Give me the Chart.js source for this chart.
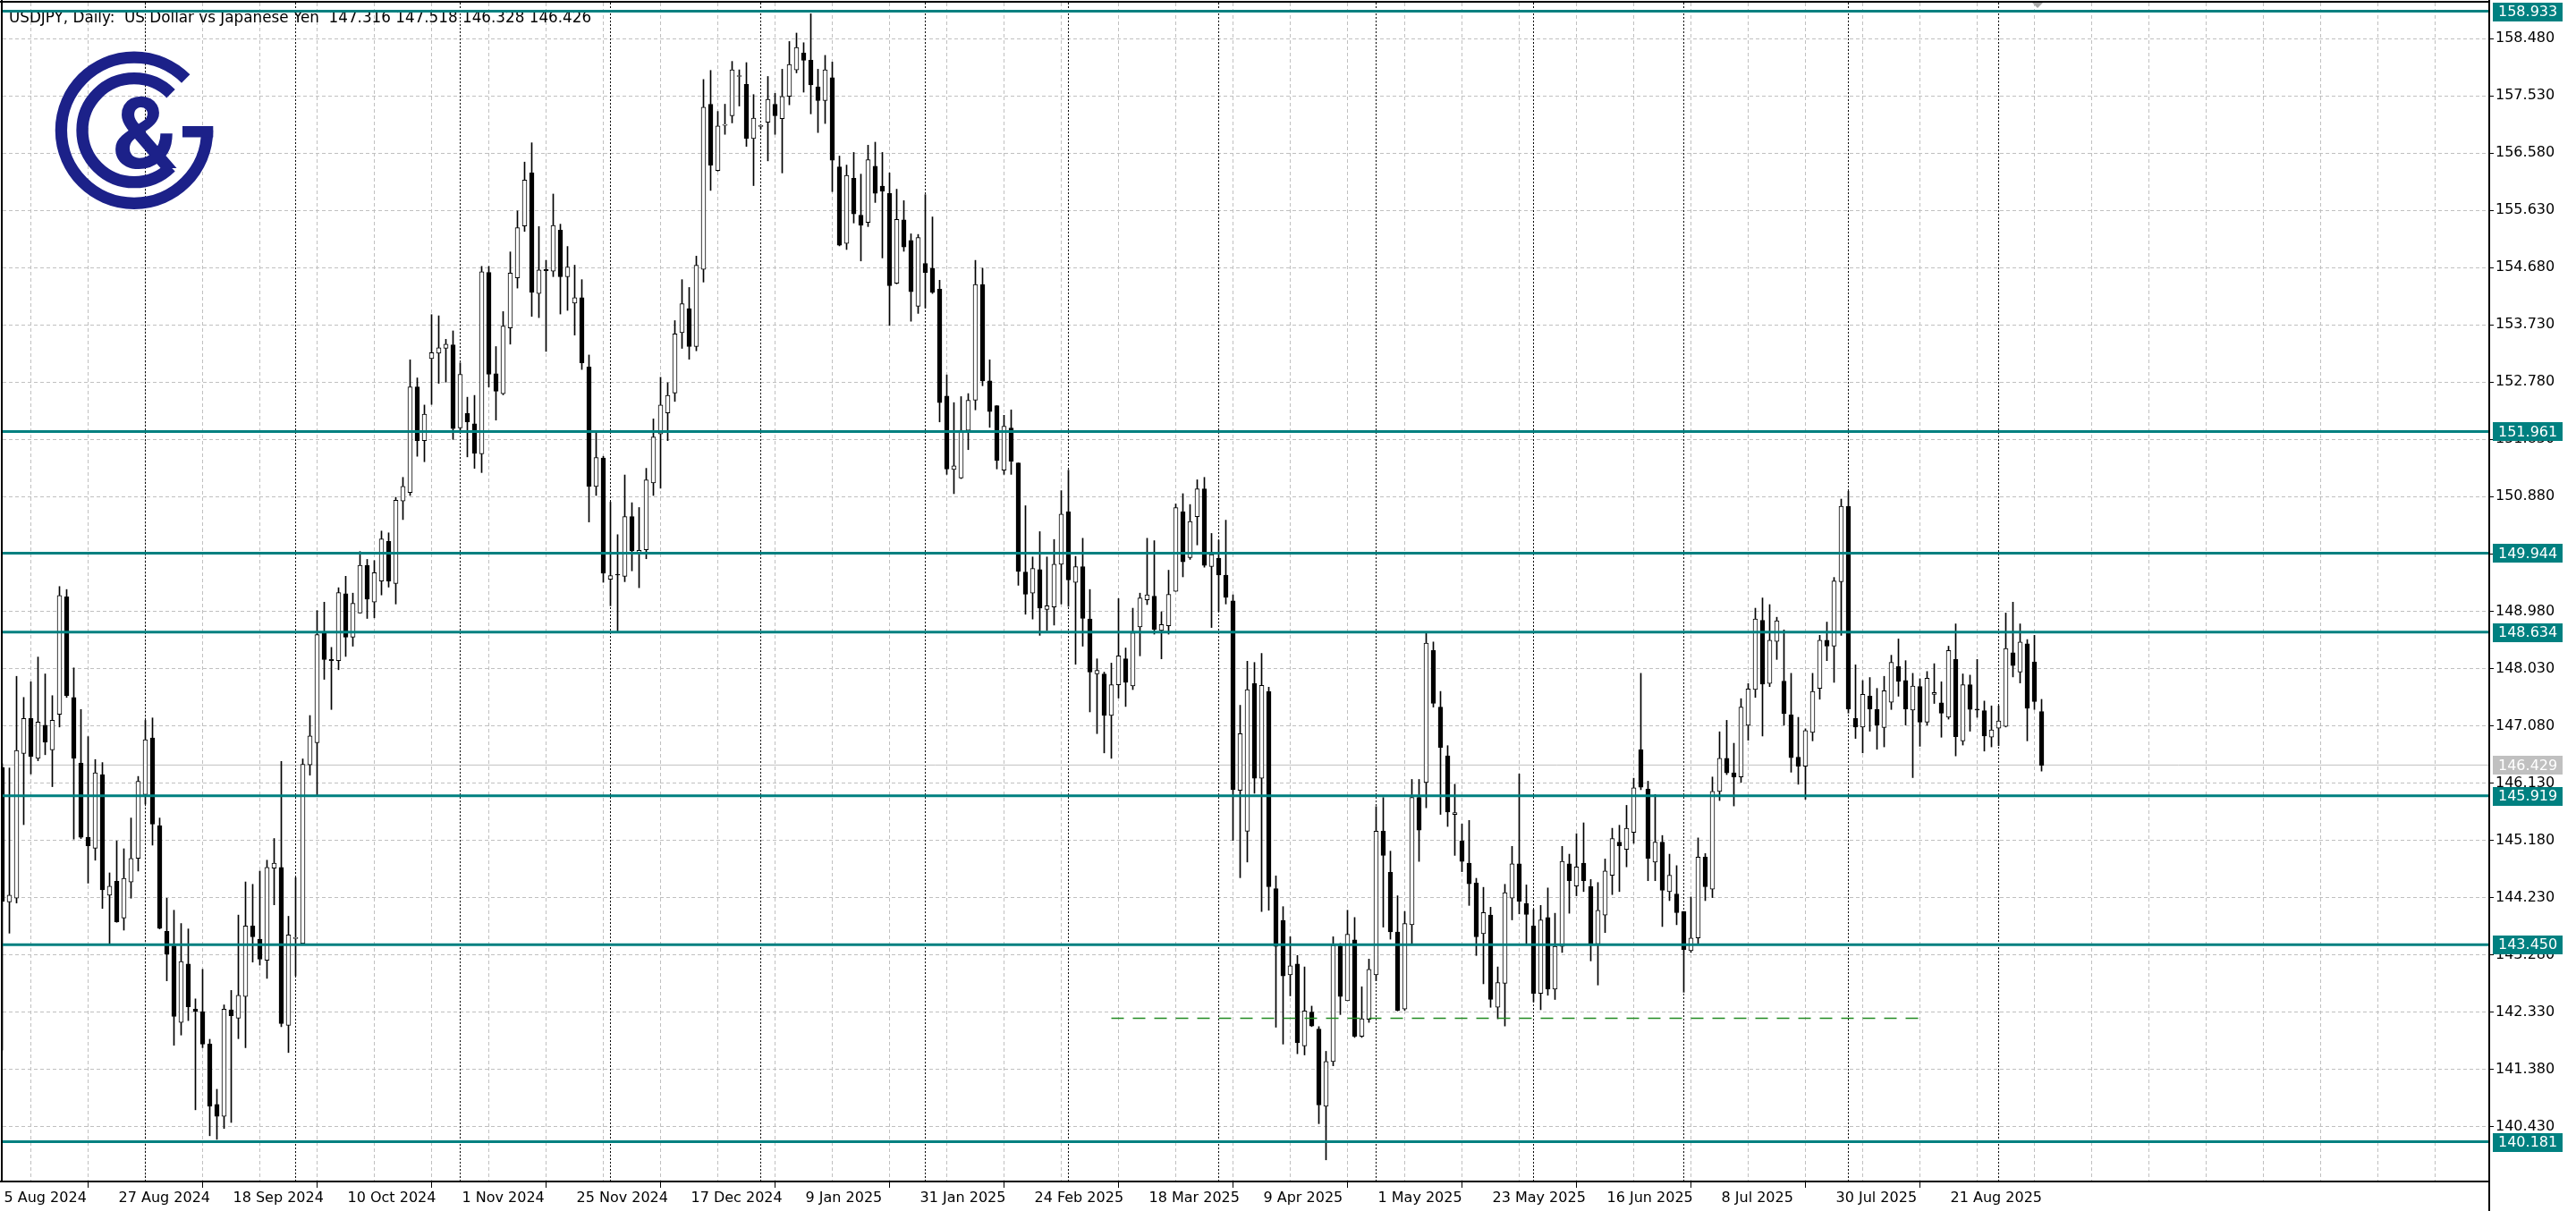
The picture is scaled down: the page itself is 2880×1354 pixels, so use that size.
<!DOCTYPE html>
<html><head><meta charset="utf-8">
<script src="https://cdn.jsdelivr.net/npm/chart.js@4.4.1/dist/chart.umd.min.js"></script>
<style>html,body{margin:0;padding:0;background:#fff;}canvas{display:block;}</style>
</head><body>
<canvas id="c" width="2880" height="1354"></canvas>
<script>
// ---------------- DATA ----------------
const opens = [
146.39,144.16,144.22,146.62,147.20,146.54,147.09,146.68,147.27,149.22,
147.55,146.46,145.23,145.05,146.27,144.27,144.50,143.89,144.49,144.88,
145.94,146.88,145.42,143.67,143.43,142.16,143.13,142.38,142.34,141.80,
140.80,140.60,142.37,142.23,142.59,143.76,143.54,143.19,144.72,144.73,
142.11,143.55,143.47,146.43,146.80,148.61,148.18,148.16,149.27,148.55,
148.95,149.74,149.13,149.48,150.14,149.44,150.81,150.95,152.70,151.81,
153.17,153.26,153.34,153.40,152.02,152.26,152.09,151.59,154.60,152.92,
152.59,153.68,154.51,155.37,156.25,154.25,154.65,154.62,155.30,154.53,
154.09,154.18,153.03,151.05,151.52,149.51,149.59,149.56,150.55,149.94,
150.00,151.11,151.92,152.27,152.60,153.60,154.00,153.37,154.65,157.39,
156.29,157.04,157.20,157.85,157.72,156.82,157.02,157.09,157.39,157.15,
157.52,157.96,158.24,158.12,157.68,157.45,157.83,156.35,155.08,156.16,
155.55,155.43,156.36,156.03,155.91,154.42,155.47,155.13,154.04,154.75,
154.67,154.32,152.55,151.33,151.19,151.98,152.48,154.40,152.80,152.39,
151.32,152.02,151.44,149.63,149.28,149.67,149.01,149.05,149.76,150.63,
149.46,149.72,148.85,147.94,147.94,147.25,147.76,148.19,147.74,148.72,
149.17,149.23,148.66,148.74,149.31,150.63,149.87,150.55,151.01,149.72,
149.86,149.58,149.15,146.01,145.33,147.78,146.21,147.65,144.38,143.85,
142.95,143.13,141.77,142.33,142.05,140.77,141.51,143.43,142.52,143.53,
141.93,142.21,142.95,145.33,144.65,143.66,142.38,143.78,145.89,146.14,
148.33,147.39,146.58,145.61,145.17,144.80,144.47,143.63,143.94,142.41,
142.81,144.22,144.79,144.13,143.76,142.64,143.90,142.71,143.42,144.79,
144.42,144.80,144.41,143.46,143.94,144.60,145.15,145.03,145.31,146.68,
146.03,144.82,145.15,144.33,144.29,144.00,143.35,143.56,144.90,144.37,
145.99,146.54,146.30,146.23,147.09,147.68,148.83,147.78,148.48,147.82,
147.26,146.56,146.41,146.97,147.70,148.50,148.40,149.47,150.72,147.20,
147.06,147.57,147.35,147.05,147.47,148.06,147.83,147.34,147.73,147.14,
147.60,147.46,147.22,148.18,146.83,147.76,147.35,147.33,146.89,147.04,
147.07,148.29,147.97,148.44,148.14,147.316
];
const highs = [
146.45,146.38,147.90,147.55,147.81,148.22,147.94,147.58,149.39,149.34,
148.04,147.35,146.90,146.52,146.47,144.64,145.17,145.04,145.55,146.24,
147.17,147.21,145.55,144.22,144.02,143.80,143.71,142.55,143.04,141.88,
141.05,142.45,142.69,143.94,144.49,144.45,144.67,144.85,145.21,146.49,
143.92,144.56,146.53,147.25,148.99,149.13,148.38,149.37,149.56,149.28,
149.97,149.84,149.82,150.31,150.28,150.87,151.20,153.15,152.85,152.40,
153.90,153.88,153.49,153.63,153.10,152.53,152.56,154.70,154.70,153.37,
153.95,154.94,155.62,156.43,156.75,155.36,154.80,155.90,155.40,155.03,
154.72,154.48,153.23,151.95,151.55,150.79,150.25,151.24,150.78,150.70,
151.35,152.17,152.86,152.77,153.80,154.48,154.35,154.87,157.80,157.95,
157.27,157.39,158.10,157.96,158.08,157.55,157.05,157.85,157.57,157.97,
158.43,158.57,158.41,158.89,157.97,158.20,158.09,156.53,156.38,156.59,
156.23,156.71,156.76,156.59,156.25,155.98,155.79,155.24,155.23,155.89,
155.52,154.47,152.90,152.44,152.54,152.59,154.80,154.67,153.15,152.39,
152.23,152.32,151.44,150.73,149.88,150.30,149.88,150.17,150.98,151.32,
149.89,150.19,149.34,148.19,147.97,148.12,149.19,148.37,149.03,149.28,
150.19,150.15,148.97,149.66,150.76,150.93,150.75,151.16,151.20,150.27,
150.16,150.49,149.25,147.42,148.15,148.13,148.28,147.72,144.59,144.08,
143.58,143.27,143.08,142.43,142.09,141.68,143.58,143.47,144.02,143.90,
142.75,143.21,145.74,145.89,145.00,144.26,144.00,146.19,146.19,148.61,
148.47,147.65,146.75,146.11,145.45,145.51,144.55,144.40,144.07,143.08,
144.45,145.08,146.28,144.44,144.03,144.10,144.39,143.97,145.08,144.95,
145.29,145.47,144.53,144.48,144.87,145.38,145.43,145.76,146.21,147.95,
146.16,145.94,145.26,144.95,144.76,144.00,144.24,145.22,144.96,146.23,
146.98,147.17,146.79,147.53,147.78,149.03,149.20,149.09,148.88,148.67,
147.95,147.22,147.03,147.95,148.58,148.80,149.54,150.84,150.97,148.09,
147.83,147.88,147.70,147.90,148.25,148.52,148.16,147.95,147.86,147.98,
148.11,147.81,148.40,148.77,147.94,147.92,148.18,147.49,147.41,147.41,
148.95,149.13,148.77,148.51,148.58,147.518
];
const lows = [
141.70,143.64,144.14,145.44,146.28,146.50,146.60,146.07,147.06,147.55,
145.20,145.21,144.47,144.85,144.05,143.46,143.82,143.69,144.22,144.67,
145.78,145.10,143.71,142.85,141.78,141.95,142.19,140.71,141.74,140.28,
140.22,140.40,140.50,141.89,141.74,143.16,143.11,142.89,144.11,142.09,
141.66,142.93,143.47,146.26,145.92,147.85,147.35,148.01,148.23,148.40,
148.95,148.86,148.87,149.25,149.38,149.10,150.50,150.90,151.55,151.46,
152.41,152.76,152.78,151.83,151.95,151.54,151.35,151.28,152.70,152.15,
152.57,153.41,154.34,155.28,153.87,153.85,153.29,154.53,153.91,153.97,
153.56,152.99,150.46,150.90,149.46,149.07,148.64,149.47,149.65,149.37,
149.85,150.90,151.02,151.81,152.46,153.34,153.16,153.30,154.44,155.96,
156.28,156.89,157.08,157.36,156.69,156.04,156.98,156.45,156.89,156.25,
157.38,157.91,157.59,157.23,156.92,157.07,155.94,155.04,154.98,155.42,
154.79,155.36,155.76,154.84,153.72,154.41,154.95,153.79,153.92,154.01,
154.25,152.12,151.25,150.93,151.18,151.66,152.32,152.72,152.03,151.34,
151.25,151.25,149.41,148.93,148.85,148.58,148.66,148.75,149.10,149.06,
148.10,148.40,147.31,146.95,146.63,146.54,147.54,147.40,147.68,148.24,
149.09,148.60,148.19,148.60,149.31,149.55,149.84,150.08,149.71,148.71,
148.98,149.10,145.18,144.56,144.82,145.96,144.00,144.02,142.08,141.80,
142.60,141.64,141.62,142.09,140.48,139.88,141.44,142.29,142.52,141.91,
141.91,142.16,142.85,143.74,143.54,142.35,142.36,143.47,144.83,145.72,
147.39,145.61,145.41,144.93,144.66,144.10,143.27,142.80,142.41,142.22,
142.10,143.86,143.96,143.47,142.50,142.37,142.61,142.54,143.32,143.97,
144.26,144.33,143.18,142.78,143.65,144.28,144.33,144.74,145.13,146.02,
144.51,144.51,143.75,144.18,143.78,142.66,143.32,143.47,144.18,144.23,
145.84,146.27,145.75,146.14,146.84,147.55,146.91,147.73,148.18,147.09,
146.31,146.11,145.86,146.83,147.52,148.16,147.80,148.58,147.29,146.87,
146.63,146.99,146.69,146.73,147.35,147.57,147.09,146.22,146.74,147.09,
147.45,146.89,147.19,146.58,146.76,146.99,147.22,146.66,146.73,146.75,
147.06,147.89,147.79,146.83,147.35,146.328
];
const closes = [
144.17,144.27,146.67,147.20,146.57,147.14,146.81,147.17,149.24,147.58,
146.54,145.23,145.09,146.30,144.36,144.42,143.83,144.55,144.88,146.16,
146.85,145.45,143.72,143.29,142.26,143.17,142.42,142.34,141.80,140.77,
140.60,142.38,142.27,142.61,143.76,143.58,143.21,144.73,144.80,142.14,
143.61,143.56,146.44,146.91,148.59,148.18,148.16,149.29,148.55,149.11,
149.74,149.18,149.62,150.18,149.48,150.82,151.05,152.70,151.81,152.25,
153.27,153.35,153.41,152.01,152.91,152.12,151.60,154.61,152.91,152.63,
153.71,154.59,155.34,156.13,154.27,154.64,154.63,155.38,154.53,154.69,
154.18,153.10,151.05,151.53,149.61,149.57,149.58,150.55,149.98,149.99,
151.16,151.87,152.40,152.56,153.58,154.08,153.37,154.72,157.34,156.38,
157.03,157.05,157.96,157.86,156.82,157.16,157.03,157.47,157.20,157.52,
158.05,158.33,158.12,157.71,157.45,157.96,156.46,155.05,156.21,155.57,
155.38,156.47,155.91,155.95,154.38,155.48,155.02,154.28,155.18,154.60,
154.27,152.44,151.34,151.39,151.98,152.48,154.40,152.80,152.29,151.48,
152.05,151.47,149.64,149.26,149.69,149.03,149.07,149.76,150.59,149.50,
149.72,148.86,147.97,148.00,147.25,147.76,148.24,147.80,148.62,149.20,
149.25,148.68,148.76,149.26,150.70,149.80,150.47,151.01,149.74,149.92,
149.58,149.21,146.02,146.95,147.68,146.21,147.75,144.41,143.42,142.93,
143.10,141.82,142.35,142.10,140.79,141.51,143.44,142.59,143.62,141.93,
142.22,143.04,145.33,144.93,143.66,142.36,143.80,145.89,145.35,148.45,
147.45,146.72,145.65,145.64,144.83,144.46,143.58,143.98,142.54,142.82,
144.31,144.79,144.17,143.95,142.64,143.86,142.71,143.42,144.83,144.51,
144.74,144.51,143.46,144.02,144.67,145.21,145.09,145.38,146.05,146.06,
144.88,145.15,144.35,144.60,143.98,143.37,143.56,144.90,144.41,145.99,
146.54,146.30,146.23,147.39,147.69,148.85,147.77,148.50,148.82,147.28,
146.55,146.41,147.00,147.65,148.50,148.40,149.48,150.72,147.36,147.06,
147.60,147.36,147.09,147.66,148.13,147.82,147.36,147.74,147.14,147.87,
147.63,147.29,148.33,146.90,147.76,147.35,147.34,146.91,147.01,147.16,
148.36,148.08,148.47,147.37,147.48,146.426
];
// Time-scale labels, one every 16 bars starting at bar 0
const dateTickLabels = ["5 Aug 2024","27 Aug 2024","18 Sep 2024","10 Oct 2024","1 Nov 2024","25 Nov 2024",
  "17 Dec 2024","9 Jan 2025","31 Jan 2025","24 Feb 2025","18 Mar 2025","9 Apr 2025","1 May 2025",
  "23 May 2025","16 Jun 2025","8 Jul 2025","30 Jul 2025","21 Aug 2025"];
// Price-scale tick values
const priceTickValues = [140.430,141.380,142.330,143.280,144.230,145.180,146.130,147.080,148.030,148.980,
  149.930,150.880,151.830,152.780,153.730,154.680,155.630,156.580,157.530,158.480];
// Horizontal level lines drawn on the chart
const levelPrices = [158.933,151.961,149.944,148.634,145.919,143.450,140.181];
const bidPrice = 146.429;
// Dashed support segment: [start bar, end bar] and its price
const supportBars = [155, 268];
const supportPrice = 142.23;
// First bar of each month (period separators)
const monthStartBars = [20,41,64,85,106,129,149,170,192,214,235,258,279];
const titleText = "USDJPY, Daily:  US Dollar vs Japanese Yen  147.316 147.518 146.328 146.426";

// ---------------- CHART ----------------
const FONT = "'DejaVu Sans', Verdana, sans-serif";
const TEAL = '#008080';
const X_MIN = 0.0625, X_MAX = 347.5625;
const Y_MAX = 159.074, Y_MIN = 139.521;

Chart.defaults.font.family = FONT;
Chart.defaults.font.size = 16;
Chart.defaults.color = '#000';

const candleBodies = opens.map((o, i) => ({x: i, y: [o, closes[i]]}));
const candleWicks = lows.map((l, i) => ({x: i, y: [l, highs[i]]}));
const isUp = i => closes[i] >= opens[i];

const datasets = [];
levelPrices.forEach(p => datasets.push({
  type: 'line', data: [{x: X_MIN, y: p}, {x: X_MAX, y: p}],
  borderColor: TEAL, borderWidth: 3, pointRadius: 0, order: 1
}));
datasets.push({
  type: 'line', data: [{x: supportBars[0], y: supportPrice}, {x: supportBars[1], y: supportPrice}],
  borderColor: '#228b22', borderWidth: 1.5, borderDash: [14, 10], pointRadius: 0, order: 2
});
datasets.push({
  type: 'line', data: [{x: X_MIN, y: bidPrice}, {x: X_MAX, y: bidPrice}],
  borderColor: '#c0c0c0', borderWidth: 1, pointRadius: 0, order: 6
});
datasets.push({
  type: 'bar', data: candleBodies, grouped: false, barThickness: 5, minBarLength: 1,
  backgroundColor: ctx => isUp(ctx.dataIndex) ? '#ffffff' : '#000000',
  borderColor: '#000', borderWidth: 1, borderSkipped: false, order: 4
});
datasets.push({
  type: 'bar', data: candleWicks, grouped: false, barThickness: 1,
  backgroundColor: '#000', borderWidth: 0, order: 5
});

const mt4Plugin = {
  id: 'mt4',
  beforeDraw(chart) {
    const c = chart.ctx;
    c.save(); c.fillStyle = '#fff'; c.fillRect(0, 0, chart.width, chart.height); c.restore();
  },
  beforeDatasetsDraw(chart) {
    const {ctx, chartArea: a, scales: {x}} = chart;
    ctx.save();
    ctx.beginPath(); ctx.rect(a.left, a.top, a.right - a.left, a.bottom - a.top); ctx.clip();
    // period separators
    ctx.strokeStyle = '#000'; ctx.lineWidth = 1; ctx.setLineDash([2, 2]);
    monthStartBars.forEach(b => {
      const px = Math.round(x.getPixelForValue(b) - 0.5) + 0.5;
      ctx.beginPath(); ctx.moveTo(px, a.top); ctx.lineTo(px, a.bottom); ctx.stroke();
    });
    ctx.setLineDash([]);
    // title
    ctx.fillStyle = '#000'; ctx.font = '16.8px ' + FONT; ctx.textAlign = 'left'; ctx.textBaseline = 'alphabetic';
    ctx.fillText(titleText, 10, 25);
    // logo
    const cx = 150, cy = 145.7, navy = '#1c2189';
    ctx.strokeStyle = navy; ctx.fillStyle = navy; ctx.lineCap = 'butt'; ctx.lineWidth = 13.3;
    ctx.beginPath(); ctx.arc(cx, cy, 81.6, -Math.PI / 4, 0, true); ctx.stroke();
    ctx.beginPath(); ctx.arc(cx, cy, 58, -Math.PI / 4, Math.PI / 4, true); ctx.stroke();
    ctx.fillRect(204, 141, 34.3, 12.5);
    ctx.font = 'bold 112px Roboto'; ctx.textAlign = 'center';
    ctx.fillText('&', 162, 188);
    ctx.restore();
  },
  afterDraw(chart) {
    const {ctx, chartArea: a, scales: {y}} = chart;
    ctx.save();
    // frame
    ctx.strokeStyle = '#000'; ctx.lineWidth = 2;
    ctx.beginPath();
    ctx.moveTo(0, 2); ctx.lineTo(a.right, 2);
    ctx.moveTo(2, 0); ctx.lineTo(2, a.bottom);
    ctx.moveTo(0, a.bottom); ctx.lineTo(a.right, a.bottom);
    ctx.moveTo(a.right, 0); ctx.lineTo(a.right, chart.height);
    ctx.stroke();
    // price boxes
    ctx.font = '16px ' + FONT; ctx.textAlign = 'left'; ctx.textBaseline = 'middle';
    const box = (p, bg) => {
      const py = y.getPixelForValue(p);
      ctx.fillStyle = bg; ctx.fillRect(a.right + 4, Math.round(py) - 10, 78, 21);
      ctx.fillStyle = '#fff'; ctx.fillText(p.toFixed(3), a.right + 10, py + 1);
    };
    box(bidPrice, '#c0c0c0');
    levelPrices.forEach(p => box(p, TEAL));
    // chart shift marker
    ctx.fillStyle = '#a8a8a8';
    ctx.beginPath(); ctx.moveTo(2272, 3); ctx.lineTo(2284, 3); ctx.lineTo(2278, 9); ctx.closePath(); ctx.fill();
    ctx.restore();
  }
};

new Chart(document.getElementById('c'), {
  type: 'bar',
  data: {datasets},
  options: {
    responsive: false, animation: false, devicePixelRatio: 1, events: [],
    layout: {padding: {left: 3, top: 3, right: 0, bottom: 0}},
    plugins: {legend: {display: false}, tooltip: {enabled: false}},
    scales: {
      x: {
        type: 'linear', min: X_MIN, max: X_MAX, bounds: 'data', offset: false,
        afterBuildTicks: s => {
          const t = [];
          for (let i = 0; i <= 344; i += 8) t.push({value: i});
          s.ticks = t;
        },
        afterFit: s => { s.height = 33; s.paddingLeft = 0; s.paddingRight = 0; },
        grid: {
          color: '#c0c0c0', lineWidth: 1, drawTicks: true, tickLength: 7, tickWidth: 1,
          tickColor: c => (c.tick && c.tick.value % 16 === 0 && c.tick.value / 16 < dateTickLabels.length) ? '#000' : 'rgba(0,0,0,0)'
        },
        border: {display: false, dash: [4, 3]},
        ticks: {
          autoSkip: false, maxRotation: 0, minRotation: 0, align: 'start', padding: 2, labelOffset: 2,
          color: '#000', font: {size: 16, family: FONT},
          callback: v => (v % 16 === 0 && dateTickLabels[v / 16]) ? dateTickLabels[v / 16] : ''
        }
      },
      y: {
        type: 'linear', position: 'right', min: Y_MIN, max: Y_MAX, bounds: 'data',
        afterBuildTicks: s => { s.ticks = priceTickValues.map(v => ({value: v})); },
        afterFit: s => { s.width = 97; s.paddingTop = 0; s.paddingBottom = 0; },
        grid: {color: '#c0c0c0', lineWidth: 1, drawTicks: true, tickLength: 5, tickColor: '#000', tickWidth: 1},
        border: {display: false, dash: [4, 3]},
        ticks: {padding: 2, color: '#000', font: {size: 16, family: FONT}, callback: v => v.toFixed(3)}
      }
    }
  },
  plugins: [mt4Plugin]
});
</script>
</body></html>
